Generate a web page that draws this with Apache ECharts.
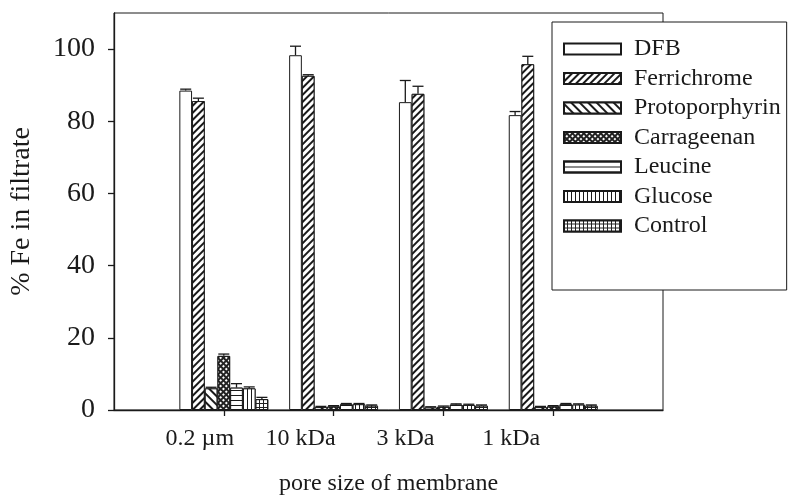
<!DOCTYPE html>
<html>
<head>
<meta charset="utf-8">
<script src="https://cdn.jsdelivr.net/npm/echarts@6/dist/echarts.min.js"></script>
<style>
  html, body { margin: 0; padding: 0; background: #fff; }
  #chart { width: 792px; height: 495px; }
</style>
</head>
<body>
<div id="chart"></div>
<script>
// Membrane pore sizes (empty slots pad the axis on both sides)
const categories = ['', '0.2 µm', '10 kDa', '3 kDa', '1 kDa', ''];
const labelShift = [0, -24, -33, -38, -42, 0];

// % Fe recovered in filtrate, per iron-binding ligand
const seriesNames = ['DFB', 'Ferrichrome', 'Protoporphyrin', 'Carrageenan', 'Leucine', 'Glucose', 'Control'];
const dfb            = [null, 88.5, 98.3, 85.3, 81.7, null];
const ferrichrome    = [null, 85.6, 92.6, 87.6, 95.8, null];
const protoporphyrin = [null, 6.0, 0.8, 0.7, 0.8, null];
const carrageenan    = [null, 15.0, 1.0, 0.9, 1.0, null];
const leucine        = [null, 6.2, 1.6, 1.5, 1.6, null];
const glucose        = [null, 6.0, 1.6, 1.4, 1.5, null];
const control        = [null, 3.0, 1.2, 1.2, 1.2, null];

// Standard deviation (upper error bars)
const dfbErr            = [null, 0.4, 2.5, 6.0, 1.0, null];
const ferrichromeErr    = [null, 0.8, 0.3, 2.1, 2.2, null];
const protoporphyrinErr = [null, 0.3, 0.2, 0.2, 0.2, null];
const carrageenanErr    = [null, 0.5, 0.2, 0.2, 0.2, null];
const leucineErr        = [null, 1.1, 0.2, 0.2, 0.2, null];
const glucoseErr        = [null, 0.4, 0.2, 0.2, 0.2, null];
const controlErr        = [null, 0.5, 0.2, 0.2, 0.2, null];

const yTicks = [0, 20, 40, 60, 80, 100];

const values = [dfb, ferrichrome, protoporphyrin, carrageenan, leucine, glucose, control];
const errors = [dfbErr, ferrichromeErr, protoporphyrinErr, carrageenanErr, leucineErr, glucoseErr, controlErr];

const FONT = "'Liberation Serif', 'Times New Roman', serif";
const INK = '#1a1a1a';
const BAR_W = 12.7;

// Fill patterns for each ligand
const decals = [
  null,
  { symbol: 'rect', symbolSize: 1, dashArrayX: [1, 0], dashArrayY: [2, 3], rotation: -Math.PI / 4, color: INK, backgroundColor: '#fff' },
  { symbol: 'rect', symbolSize: 1, dashArrayX: [1, 0], dashArrayY: [1.4, 3.4], rotation: Math.PI / 4, color: INK, backgroundColor: '#fff' },
  { symbol: 'rect', symbolSize: 1, dashArrayX: [2, 1.5], dashArrayY: [2, 1.5], rotation: Math.PI / 4, color: '#fff', backgroundColor: '#222' },
  { symbol: 'rect', symbolSize: 1, dashArrayX: [1, 0], dashArrayY: [1, 3.5], rotation: 0, color: INK, backgroundColor: '#fff' },
  { symbol: 'rect', symbolSize: 1, dashArrayX: [1, 0], dashArrayY: [1, 3], rotation: Math.PI / 2, color: INK, backgroundColor: '#fff' },
  { symbol: 'rect', symbolSize: 1, dashArrayX: [2.2, 1], dashArrayY: [2.2, 1], rotation: 0, color: '#fff', backgroundColor: '#222' }
];

const barSeries = seriesNames.map((name, i) => {
  const itemStyle = { color: '#fff', borderColor: INK, borderWidth: 1 };
  if (decals[i]) itemStyle.decal = decals[i];
  return {
    name: name,
    type: 'bar',
    barWidth: BAR_W,
    barGap: '0%',
    data: values[i],
    itemStyle: itemStyle,
    emphasis: { disabled: true },
    z: 2
  };
});

// Error-bar data: [categoryIndex, mean, mean + sd, seriesIndex]
const errData = [];
values.forEach((vals, s) => {
  vals.forEach((v, c) => {
    if (v != null && errors[s][c] != null) errData.push([c, v, v + errors[s][c], s]);
  });
});

const errorSeries = {
  type: 'custom',
  name: 'sd',
  data: errData,
  encode: { x: 0, y: [1, 2] },
  z: 5,
  silent: true,
  renderItem: function (params, api) {
    const c = api.value(0);
    const s = api.value(3);
    const base = api.coord([c, api.value(1)]);
    const top = api.coord([c, api.value(2)]);
    const x = base[0] + (s - 3) * BAR_W;
    const half = 5.5;
    const style = { stroke: INK, lineWidth: 1.3 };
    return {
      type: 'group',
      children: [
        { type: 'line', shape: { x1: x, y1: base[1], x2: x, y2: top[1] }, style: style },
        { type: 'line', shape: { x1: x - half, y1: top[1], x2: x + half, y2: top[1] }, style: style }
      ]
    };
  }
};

const chart = echarts.init(document.getElementById('chart'), null, { renderer: 'canvas' });
chart.setOption({
  animation: false,
  backgroundColor: '#fff',
  textStyle: { fontFamily: FONT, color: INK },
  grid: {
    left: 114, right: 129, top: 13, bottom: 85,
    containLabel: false,
    outerBoundsMode: 'none',
    show: true, borderColor: INK, borderWidth: 1, backgroundColor: 'transparent'
  },
  legend: {
    data: seriesNames,
    orient: 'vertical',
    left: 552,
    top: 22,
    padding: [15, 6, 52, 11],
    itemWidth: 57,
    itemHeight: 11,
    itemGap: 5.5,
    icon: 'rect',
    backgroundColor: '#fff',
    borderColor: INK,
    borderWidth: 1,
    borderRadius: 0,
    selectedMode: false,
    textStyle: { fontFamily: FONT, fontSize: 24, color: INK, lineHeight: 24, padding: [0, 0, 0, 8] },
    z: 10
  },
  xAxis: {
    type: 'category',
    data: categories,
    boundaryGap: false,
    name: 'pore size of membrane',
    nameLocation: 'middle',
    nameGap: 62,
    nameTextStyle: { fontFamily: FONT, fontSize: 24, color: INK },
    axisLine: { lineStyle: { color: INK, width: 1.3 } },
    axisTick: {
      length: 6,
      inside: false,
      interval: (i) => i >= 1 && i <= 4,
      lineStyle: { color: INK, width: 1.3 }
    },
    axisLabel: {
      interval: (i) => i >= 1 && i <= 4,
      margin: 17,
      fontFamily: FONT,
      fontSize: 24,
      color: INK,
      formatter: function (v, i) {
        const d = -labelShift[i];
        return '{t' + d + '|' + v + '}';
      },
      rich: (function () {
        const r = {};
        labelShift.forEach((s) => {
          const d = -s;
          r['t' + d] = { fontFamily: FONT, fontSize: 24, color: INK, padding: [0, 2 * d, 0, 0] };
        });
        return r;
      })()
    },
    splitLine: { show: false }
  },
  yAxis: {
    type: 'value',
    min: 0,
    max: 110,
    interval: 20,
    name: '% Fe in filtrate',
    nameLocation: 'middle',
    nameGap: 78,
    nameTextStyle: { fontFamily: FONT, fontSize: 28, color: INK },
    axisLine: { show: true, lineStyle: { color: INK, width: 1.3 } },
    axisTick: { show: true, length: 6, customValues: yTicks, lineStyle: { color: INK, width: 1.3 } },
    axisLabel: {
      margin: 19,
      fontFamily: FONT,
      fontSize: 28,
      color: INK,
      customValues: yTicks
    },
    splitLine: { show: false }
  },
  series: barSeries.concat([errorSeries])
});
</script>
</body>
</html>
